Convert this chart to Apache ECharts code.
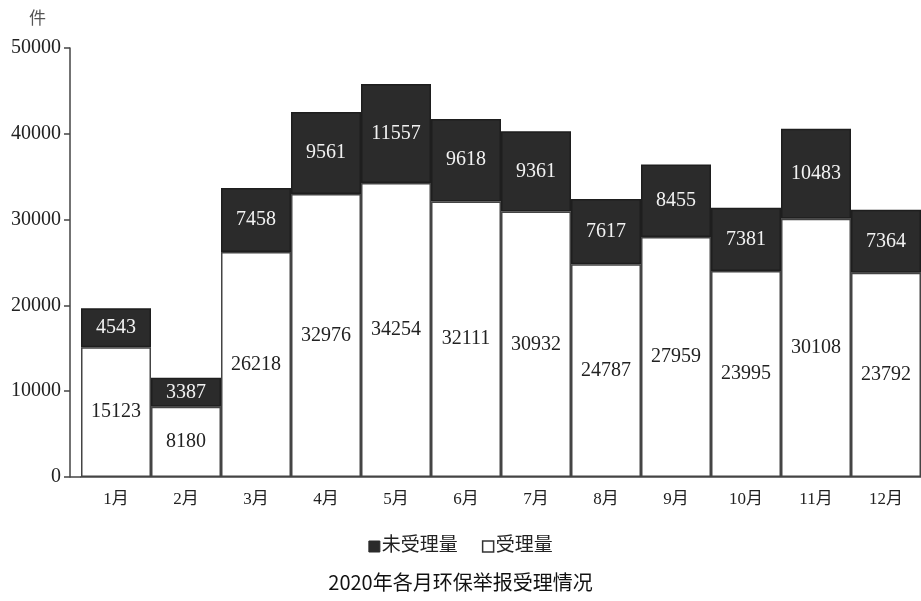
<!DOCTYPE html>
<html>
<head>
<meta charset="utf-8">
<script src="https://cdn.jsdelivr.net/npm/echarts@6/dist/echarts.min.js"></script>
<style>
html,body{margin:0;padding:0;background:#fff;}
#main{width:921px;height:601px;}
</style>
</head>
<body>
<div id="main"></div>
<script>
const months = ['1月','2月','3月','4月','5月','6月','7月','8月','9月','10月','11月','12月'];
const unaccepted = [4543,3387,7458,9561,11557,9618,9361,7617,8455,7381,10483,7364];
const accepted = [15123,8180,26218,32976,34254,32111,30932,24787,27959,23995,30108,23792];
const yTicks = {min:0, max:50000, interval:10000};

const serif = '"Liberation Serif","Noto Sans CJK SC",serif';
const gridLeft = 81, gridBottom = 124, axisOffset = 11;

const chart = echarts.init(document.getElementById('main'), null, {renderer:'canvas'});
chart.setOption({
  animation:false,
  backgroundColor:'#fff',
  title:{
    text:'2020年各月环保举报受理情况',
    left:'center', bottom:4,
    textStyle:{fontFamily:'"Noto Sans CJK SC",sans-serif', fontSize:20, fontWeight:'normal', color:'#111'}
  },
  legend:{
    bottom:40, left:'center',
    itemWidth:11, itemHeight:11, itemGap:24,
    textStyle:{fontFamily:serif, fontSize:19, color:'#222', padding:[0,0,0,-3]},
    data:[
      {name:'未受理量', icon:'rect', itemStyle:{color:'#2b2b2b', borderColor:'#2b2b2b', borderWidth:1}},
      {name:'受理量', icon:'rect', itemStyle:{color:'#fff', borderColor:'#333', borderWidth:1.5}}
    ]
  },
  grid:{left:gridLeft, right:-1, top:48, bottom:gridBottom, containLabel:false},
  xAxis:{
    type:'category', data:months,
    axisLine:{show:true, lineStyle:{color:'#444', width:1.5}},
    axisTick:{show:false},
    axisLabel:{fontFamily:serif, fontSize:17, color:'#222', margin:14}
  },
  yAxis:{
    type:'value', min:yTicks.min, max:yTicks.max, interval:yTicks.interval,
    offset:axisOffset,
    name:'件', nameLocation:'end', nameGap:20,
    nameTextStyle:{fontFamily:serif, fontSize:17, color:'#555', align:'right', padding:[0,24,0,0]},
    axisLine:{show:true, lineStyle:{color:'#444', width:1.5}},
    axisTick:{show:true, inside:false, length:6, lineStyle:{color:'#444', width:1.5}},
    axisLabel:{fontFamily:serif, fontSize:20, color:'#222', margin:9, formatter:(v)=>String(v)},
    splitLine:{show:false}
  },
  graphic:[{
    type:'line',
    shape:{x1:gridLeft-axisOffset, y1:601-gridBottom, x2:gridLeft, y2:601-gridBottom},
    style:{stroke:'#444', lineWidth:1.5}
  }],
  series:[
    {
      name:'受理量', type:'bar', stack:'total', data:accepted,
      barCategoryGap:'0%',
      itemStyle:{color:'#fff', borderColor:'#444', borderWidth:1.5},
      label:{show:true, position:'inside', fontFamily:serif, fontSize:20, color:'#222'}
    },
    {
      name:'未受理量', type:'bar', stack:'total', data:unaccepted,
      barCategoryGap:'0%',
      itemStyle:{color:'#2b2b2b', borderColor:'#1e1e1e', borderWidth:1.5},
      label:{show:true, position:'inside', fontFamily:serif, fontSize:20, color:'#f2f2f2'}
    }
  ]
});
</script>
</body>
</html>
